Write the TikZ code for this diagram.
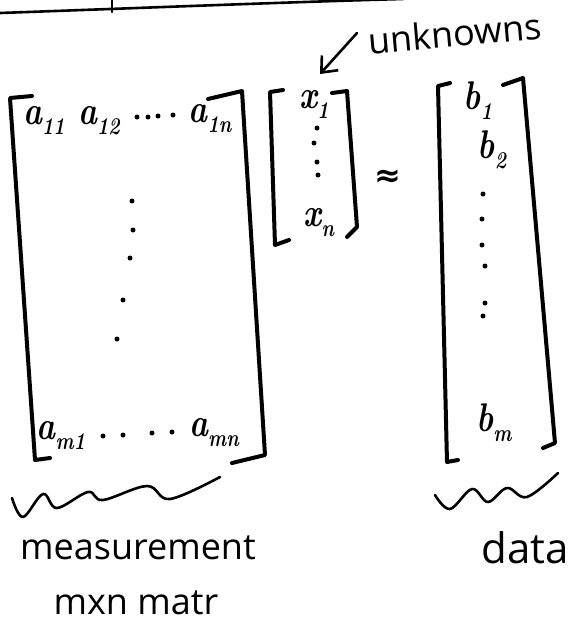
\documentclass[tikz,border=0pt]{standalone}
\usepackage{fontspec}
\newfontfamily\hand{Open Sans}
\newfontfamily\symf{DejaVu Sans}
\newcommand\subx[1]{\raisebox{-0.25em}{\fontsize{24}{26}\selectfont #1}}
\newcommand\entx[1]{\scalebox{0.8}[1]{#1}}
\usetikzlibrary{arrows.meta}
\begin{document}
\begin{tikzpicture}[x=1pt,y=-1pt,line cap=round,line join=round,
  brk/.style={line width=4pt},
  wave/.style={line width=2.6pt},
  ink/.style={line width=2.6pt},
  ent/.style={inner sep=0pt,font=\fontsize{40}{42}\selectfont\bfseries\itshape},
  lbl/.style={inner sep=0pt,font=\hand\fontsize{36}{40}\selectfont},
  dotn/.style={circle,fill,inner sep=0pt,minimum size=5pt}]
\useasboundingbox (0,0) rectangle (575,625);
% top edge line with tick
\draw[ink] (0,13) .. controls (140,8) and (290,2) .. (403,-1);
\draw[ink] (112,-1) -- (112,12);
% unknowns label and arrow
\node[lbl,rotate=5] (unk) at (455,33) {unknowns};
\coordinate (utail) at (357,33);
\coordinate (utip) at (320,74);
\draw[ink,-{Straight Barb[length=13pt,width=22pt]}] (utail) -- (utip);
% big matrix brackets
\draw[brk] (32,96) -- (10,98) -- (35,460) -- (50,458);
\draw[brk] (208,99) -- (242,91) -- (265,455) -- (232,463);
% big matrix entries
\node[ent] (a11) at (44,120) {\entx{a\subx{11}}};
\node[ent] (a12) at (99,121) {\entx{a\subx{12}}};
\node[ent] (a1n) at (210,119) {\entx{a\subx{1n}}};
\node[ent] (am1) at (61,436) {\entx{a\subx{m1}}};
\node[ent] (amn) at (214,433) {\entx{a\subx{mn}}};
\foreach \i/\p in {1/{137,117},2/{148,117},3/{158,116},4/{173,115}}
  \node[dotn] (rt\i) at (\p) {};
\foreach \i/\p in {1/{103,436},2/{123,435},3/{152,433},4/{172,432}}
  \node[dotn] (rb\i) at (\p) {};
\foreach \i/\p in {1/{132,201},2/{133,230},3/{130,258},4/{123,300},5/{117,339}}
  \node[dotn] (cm\i) at (\p) {};
% x vector
\draw[brk] (283,90) -- (270,92) -- (275,245) -- (289,240);
\draw[brk] (332,93) -- (347,91) -- (357,227) -- (347,237);
\node[ent] (x1) at (314,104) {\entx{x\subx{1}}};
\node[ent] (xn) at (319,223) {\entx{x\subx{n}}};
\foreach \i/\p in {1/{317,128},2/{314,143},3/{317,162},4/{318,175}}
  \node[dotn] (xd\i) at (\p) {};
% approx
\node[inner sep=0pt,font=\symf\bfseries\fontsize{32}{34}\selectfont] (approx) at (388,178) {≈};
% b vector
\draw[brk] (450,83) -- (438,86) -- (447,462) -- (458,460);
\draw[brk] (503,85) -- (523,78) -- (555,443) -- (543,448);
\node[ent] (b1) at (478,101) {\entx{b\subx{1}}};
\node[ent] (b2) at (492,150) {\entx{b\subx{2}}};
\node[ent] (bm) at (494,423) {\entx{b\subx{m}}};
\foreach \i/\p in {1/{483,194},2/{482,219},3/{482,245},4/{485,266},5/{485,303},6/{483,316}}
  \node[dotn] (bd\i) at (\p) {};
% underbraces (wavy)
\draw[wave] plot[smooth,tension=0.6] coordinates {(12,498) (23,517) (43,494) (57,508) (88,492) (103,500) (147,486) (170,499) (220,477)};
\draw[wave] plot[smooth,tension=0.6] coordinates {(435,495) (450,509) (472,489) (488,502) (507,488) (527,497) (558,473)};
% labels
\node[lbl] (meas) at (138,548) {measurement};
\node[lbl] (mxn) at (136,603) {mxn matr};
\node[lbl,font=\hand\fontsize{42}{46}\selectfont] (data) at (525,548) {data};
\end{tikzpicture}
\end{document}
